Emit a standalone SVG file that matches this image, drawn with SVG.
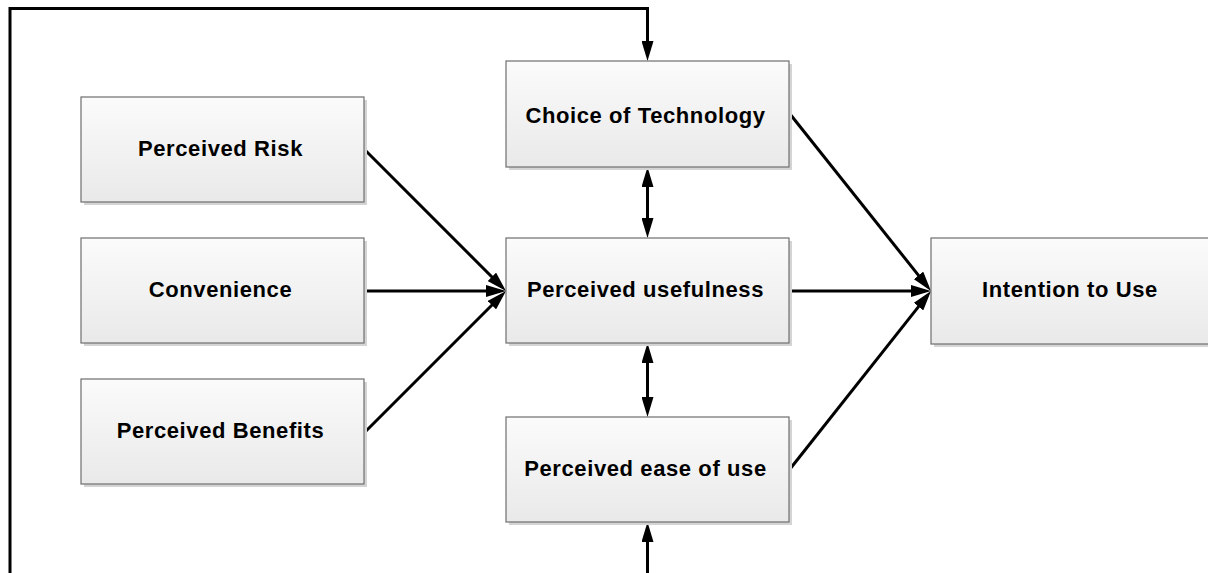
<svg xmlns="http://www.w3.org/2000/svg" width="1208" height="573" viewBox="0 0 1208 573">
<style>
.box{fill:url(#g);stroke:#6e6e6e;stroke-width:1.2}
.sh{fill:#d4d4d4}
.lbl{font-family:"Liberation Sans",Arial,sans-serif;font-weight:bold;font-size:22px;letter-spacing:0.6px;fill:#000;text-anchor:middle}
.c{fill:none;stroke:#000;stroke-width:3}
</style>
<defs>
<linearGradient id="g" x1="0" y1="0" x2="0" y2="1">
<stop offset="0" stop-color="#fbfbfb"/>
<stop offset="1" stop-color="#e9e9e9"/>
</linearGradient>
<marker id="a" viewBox="0 0 20 12" markerWidth="20" markerHeight="12" markerUnits="userSpaceOnUse" refX="14" refY="6" orient="auto-start-reverse">
<path d="M0,0 L20,6 L0,12 z" fill="#000"/>
</marker>
</defs>
<rect width="1208" height="573" fill="#fff"/>
<g id="connectors">
<path class="c" d="M365,150 L501.74,286.77" marker-end="url(#a)"/>
<path class="c" d="M365,291 L500,291" marker-end="url(#a)"/>
<path class="c" d="M365,432 L501.74,295.23" marker-end="url(#a)"/>
<path class="c" d="M790,114 L927.25,286.32" marker-end="url(#a)"/>
<path class="c" d="M790,291 L925,291" marker-end="url(#a)"/>
<path class="c" d="M790,469 L927.26,295.69" marker-end="url(#a)"/>
<path class="c" d="M647.5,173 L647.5,232" marker-start="url(#a)" marker-end="url(#a)"/>
<path class="c" d="M647.5,349 L647.5,411" marker-start="url(#a)" marker-end="url(#a)"/>
<path class="c" d="M647.5,528 L647.5,600 L10,600 L10,8.5 L647.5,8.5 L647.5,55" marker-start="url(#a)" marker-end="url(#a)"/>
</g>
<g id="perceived-risk">
<rect class="sh" x="84" y="100" width="283" height="105"/>
<rect class="box" x="81" y="97" width="283" height="105"/>
<text class="lbl" x="220.5" y="156">Perceived Risk</text>
</g>
<g id="convenience">
<rect class="sh" x="84" y="241" width="283" height="105"/>
<rect class="box" x="81" y="238" width="283" height="105"/>
<text class="lbl" x="220.5" y="297">Convenience</text>
</g>
<g id="perceived-benefits">
<rect class="sh" x="84" y="382" width="283" height="105"/>
<rect class="box" x="81" y="379" width="283" height="105"/>
<text class="lbl" x="220.5" y="438">Perceived Benefits</text>
</g>
<g id="choice-of-technology">
<rect class="sh" x="509" y="64" width="283" height="106"/>
<rect class="box" x="506" y="61" width="283" height="106"/>
<text class="lbl" x="645.5" y="123">Choice of Technology</text>
</g>
<g id="perceived-usefulness">
<rect class="sh" x="509" y="241" width="283" height="105"/>
<rect class="box" x="506" y="238" width="283" height="105"/>
<text class="lbl" x="645.5" y="297">Perceived usefulness</text>
</g>
<g id="perceived-ease-of-use">
<rect class="sh" x="509" y="420" width="283" height="105"/>
<rect class="box" x="506" y="417" width="283" height="105"/>
<text class="lbl" x="645.5" y="476">Perceived ease of use</text>
</g>
<g id="intention-to-use">
<rect class="sh" x="934" y="241" width="283" height="106"/>
<rect class="box" x="931" y="238" width="283" height="106"/>
<text class="lbl" x="1070" y="297">Intention to Use</text>
</g>
</svg>
